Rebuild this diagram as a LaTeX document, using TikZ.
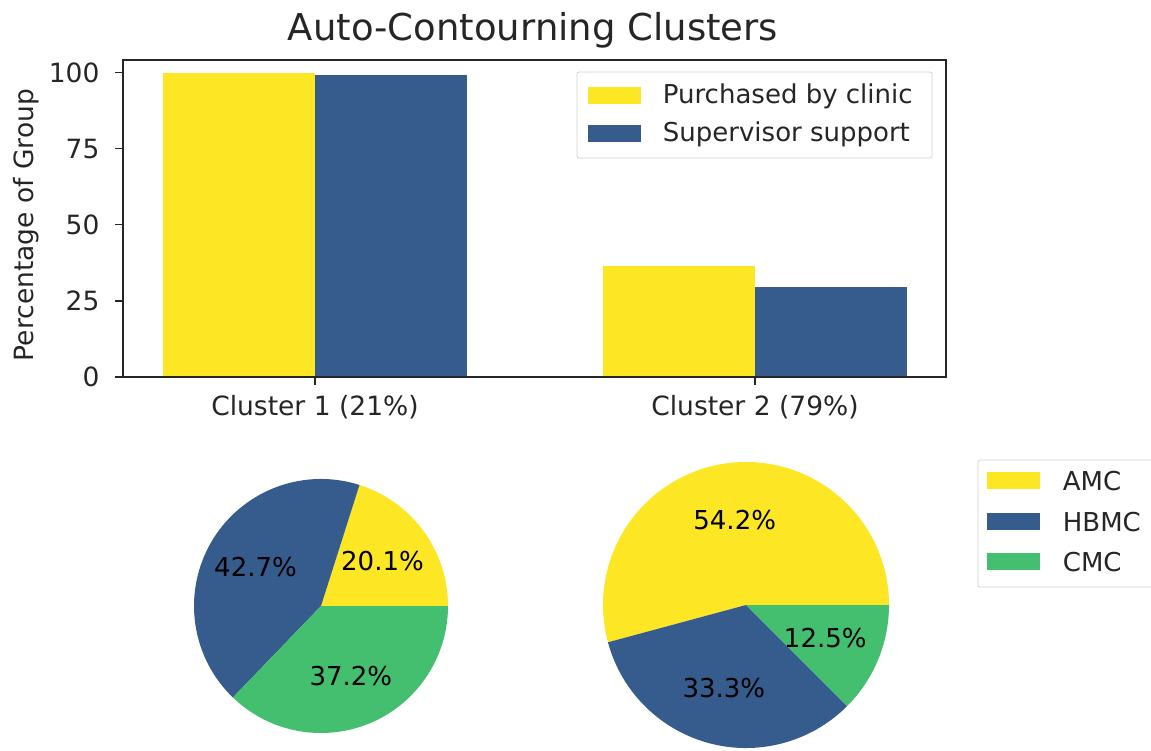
\documentclass[tikz,border=0pt]{standalone}
\usepackage{fontspec}
\setmainfont{DejaVu Sans}
\usetikzlibrary{positioning}

\definecolor{amcyellow}{HTML}{FDE725}
\definecolor{hbmcblue}{HTML}{365C8D}
\definecolor{cmcgreen}{HTML}{44BF70}
\definecolor{inktext}{HTML}{262626}

\begin{document}
\begin{tikzpicture}[
        x=1pt, y=1pt,
        every node/.style={text=inktext},
        titletext/.style={font=\fontsize{37}{42}\selectfont},
        ticktext/.style={font=\fontsize{26.5}{30}\selectfont, inner sep=0pt},
        pietext/.style={font=\fontsize{26}{29}\selectfont, text=black, inner sep=0pt},
        legendframe/.style={draw=black!18, fill=white, rounded corners=2pt, line width=0.8pt},
        swatch/.style={minimum width=53pt, minimum height=17pt, inner sep=0pt},
        entry/.style={font=\fontsize{26}{29}\selectfont, inner sep=0pt, anchor=west},
        spine/.style={line width=1.2pt, black!85},
    ]
    \useasboundingbox (0,0) rectangle (1151,750);

    \node[titletext] (title) at (533,720) {Auto-Contourning Clusters};

    % bar chart, y in percent
    \begin{scope}[shift={(0,373)}, y=3.043pt]
        \fill[amcyellow] (163,0) rectangle (315,100);
        \fill[hbmcblue]  (315,0) rectangle (467,99.3);
        \fill[amcyellow] (603,0) rectangle (755,36.4);
        \fill[hbmcblue]  (755,0) rectangle (907,29.6);
        \draw[spine] (123,0) rectangle (946,104.2);
        \foreach \v in {0,25,50,75,100}{
            \draw[spine] (123,\v) -- (115,\v) node[left=15pt, ticktext, anchor=east] (tick\v) {\v};
        }
        \coordinate (c1) at (315,0);
        \coordinate (c2) at (755,0);
    \end{scope}
    \draw[spine] (c1) -- ++(0,-8) coordinate (c1low);
    \draw[spine] (c2) -- ++(0,-8) coordinate (c2low);
    \node[ticktext, below=10pt of c1low] (clus1) {Cluster 1 (21\%)};
    \node[ticktext, below=10pt of c2low] (clus2) {Cluster 2 (79\%)};
    \node[ticktext, rotate=90] (ylab) at (26,525) {Percentage of Group};

    % bar legend
    \draw[legendframe] (577,678) rectangle (932,592);
    \node[swatch, fill=amcyellow] (swbuy) at (614,654) {};
    \node[swatch, fill=hbmcblue]  (swsup) at (614,616) {};
    \node[entry, right=22pt of swbuy] (lbbuy) {Purchased by clinic};
    \node[entry, right=22pt of swsup] (lbsup) {Supervisor support};

    % cluster 1 pie
    \begin{scope}[shift={(321,144)}]
        \foreach \a/\b/\c in {0/72.36/amcyellow, 72.36/226.08/hbmcblue, 226.08/360/cmcgreen}{
            \fill[\c] (0,0) -- (\a:127) arc[start angle=\a, end angle=\b, radius=127] -- cycle;
        }
        \node[pietext] (p1amc)  at (36.18:76.2)  {20.1\%};
        \node[pietext] (p1hbmc) at (149.22:76.2) {42.7\%};
        \node[pietext] (p1cmc)  at (293.04:76.2) {37.2\%};
    \end{scope}

    % cluster 2 pie
    \begin{scope}[shift={(746,145)}]
        \foreach \a/\b/\c in {0/195.12/amcyellow, 195.12/315/hbmcblue, 315/360/cmcgreen}{
            \fill[\c] (0,0) -- (\a:143) arc[start angle=\a, end angle=\b, radius=143] -- cycle;
        }
        \node[pietext] (p2amc)  at (97.56:85.8)  {54.2\%};
        \node[pietext] (p2hbmc) at (255.06:85.8) {33.3\%};
        \node[pietext] (p2cmc)  at (337.5:85.8)  {12.5\%};
    \end{scope}

    % pie legend
    \draw[legendframe] (978,290) rectangle (1156,163);
    \node[swatch, fill=amcyellow] (swamc)  at (1013,269) {};
    \node[swatch, fill=hbmcblue]  (swhbmc) at (1013,228) {};
    \node[swatch, fill=cmcgreen]  (swcmc)  at (1013,188) {};
    \node[entry, right=23pt of swamc]  (lbamc)  {AMC};
    \node[entry, right=23pt of swhbmc] (lbhbmc) {HBMC};
    \node[entry, right=23pt of swcmc]  (lbcmc)  {CMC};
\end{tikzpicture}
\end{document}
